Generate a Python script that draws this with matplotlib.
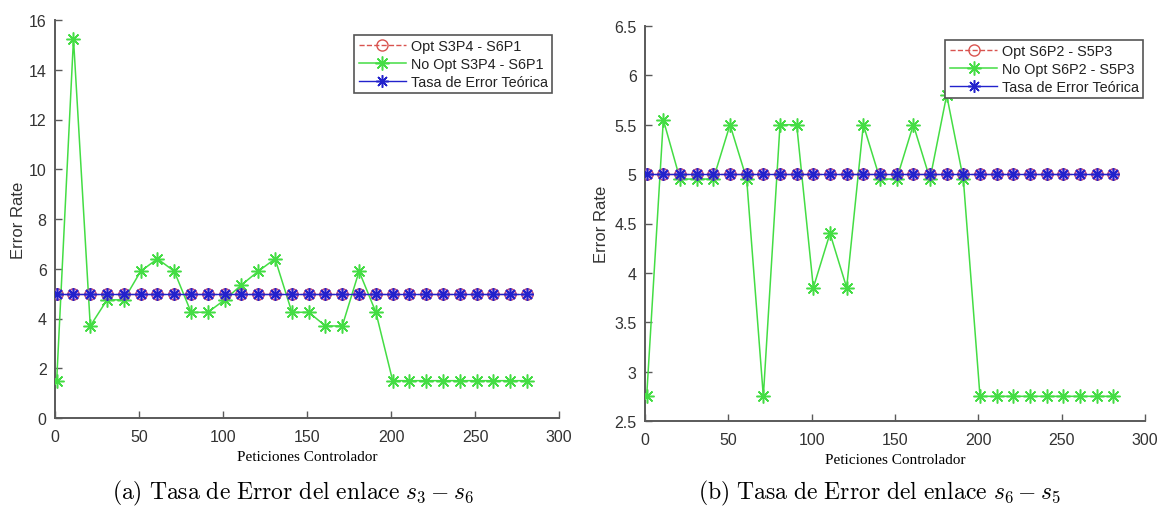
import numpy as np
import matplotlib
matplotlib.use("Agg")
import matplotlib.pyplot as plt
from matplotlib.ticker import FormatStrFormatter, MultipleLocator

plt.rcParams['mathtext.fontset'] = 'cm'
plt.rcParams['font.family'] = ['Liberation Sans', 'DejaVu Sans']

# Controller requests (x axis)
peticiones = list(range(1, 282, 10))

# Link s3 - s6
opt_a = [5.0] * 29
no_opt_a = [1.5, 15.25, 3.7, 4.75, 4.75, 5.9, 6.4, 5.9, 4.25, 4.25,
            4.75, 5.35, 5.9, 6.4, 4.25, 4.25, 3.7, 3.7, 5.9, 4.25,
            1.5, 1.5, 1.5, 1.5, 1.5, 1.5, 1.5, 1.5, 1.5]
teorica_a = [5.0] * 29

# Link s6 - s5
opt_b = [5.0] * 29
no_opt_b = [2.75, 5.55, 4.95, 4.95, 4.95, 5.5, 4.95, 2.75, 5.5, 5.5,
            3.85, 4.4, 3.85, 5.5, 4.95, 4.95, 5.5, 4.95, 5.8, 4.95,
            2.75, 2.75, 2.75, 2.75, 2.75, 2.75, 2.75, 2.75, 2.75]
teorica_b = [5.0] * 29

labels_a = ['Opt S3P4 - S6P1', 'No Opt S3P4 - S6P1', 'Tasa de Error Teórica']
labels_b = ['Opt S6P2 - S5P3', 'No Opt S6P2 - S5P3', 'Tasa de Error Teórica']

W, H = 1164, 510
fig = plt.figure(figsize=(W / 100, H / 100), dpi=100)

ax_a = fig.add_axes([55 / W, 1 - 419 / H, 504 / W, 398 / H])
ax_b = fig.add_axes([645 / W, 1 - 422 / H, 500 / W, 395 / H])

red = '#d9534f'
green = '#44dd44'
blue = '#2222cc'
axis_col = '#5a5a5a'
text_col = '#333333'
asterisk = (8, 2, 0)  # MATLAB-style '*'


def draw(ax, opt, no_opt, teo, labels, ylim, ystep, yfmt, leg_anchor, ypad):
    ax.plot(peticiones, opt, color=red, linestyle='--', linewidth=1,
            marker='o', markersize=8, markerfacecolor='none',
            markeredgecolor=red, markeredgewidth=1, label=labels[0], zorder=2)
    ax.plot(peticiones, no_opt, color=green, linewidth=1.1,
            marker=asterisk, markersize=10, markeredgewidth=1.1,
            label=labels[1], zorder=3)
    ax.plot(peticiones, teo, color=blue, linewidth=1,
            marker=asterisk, markersize=9, markeredgewidth=1.1,
            label=labels[2], zorder=4)
    # purple look of the overlapping markers
    ax.plot(peticiones, opt, linestyle='none', marker='o', markersize=8,
            markerfacecolor='#b070c8', markeredgecolor='#a040a0',
            alpha=0.55, zorder=3.5)

    ax.set_xlim(0, 300)
    ax.set_ylim(*ylim)
    ax.xaxis.set_major_locator(MultipleLocator(50))
    ax.yaxis.set_major_locator(MultipleLocator(ystep))
    ax.yaxis.set_major_formatter(FormatStrFormatter(yfmt))

    ax.spines['top'].set_visible(False)
    ax.spines['right'].set_visible(False)
    for s in ['left', 'bottom']:
        ax.spines[s].set_color(axis_col)
        ax.spines[s].set_linewidth(1.4)
    ax.tick_params(direction='in', length=5, width=1, colors=axis_col,
                   labelcolor=text_col, labelsize=11.5)
    ax.tick_params(axis='y', pad=6)
    ax.tick_params(axis='x', pad=8)

    ax.set_xlabel('Peticiones Controlador', fontfamily='Liberation Serif',
                  fontsize=11, color='black', labelpad=4)
    ax.set_ylabel('Error Rate', fontsize=12, color=text_col, labelpad=ypad)

    leg = ax.legend(loc='upper right', bbox_to_anchor=leg_anchor,
                    bbox_transform=fig.transFigure, fontsize=10.4,
                    frameon=True, fancybox=False, framealpha=1,
                    handlelength=3.3, handletextpad=0.3, borderpad=0.3,
                    labelspacing=0.25, borderaxespad=0)
    leg.get_frame().set_edgecolor('#555555')
    leg.get_frame().set_linewidth(1.2)
    for t in leg.get_texts():
        t.set_color('#222222')


draw(ax_a, opt_a, no_opt_a, teorica_a, labels_a, (0, 16), 2, '%g',
     (552 / W, 1 - 36 / H), 2)
draw(ax_b, opt_b, no_opt_b, teorica_b, labels_b, (2.5, 6.5), 0.5, '%g',
     (1143 / W, 1 - 41 / H), 4)

fig.text(293 / W, 1 - 493 / H,
         r'$\mathrm{(a)\ Tasa\ de\ Error\ del\ enlace\ }s_3 - s_6$',
         ha='center', va='center', fontsize=17)
fig.text(880 / W, 1 - 493 / H,
         r'$\mathrm{(b)\ Tasa\ de\ Error\ del\ enlace\ }s_6 - s_5$',
         ha='center', va='center', fontsize=17)

plt.savefig('out.png', dpi=100)
plt.close()
